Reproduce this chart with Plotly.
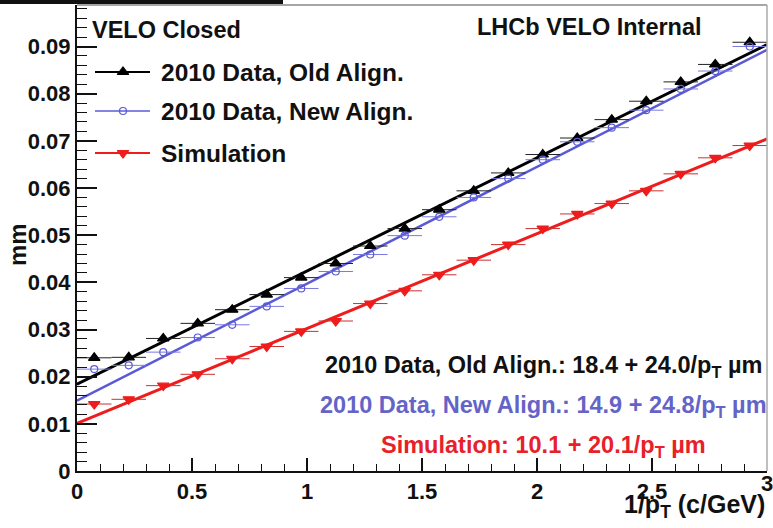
import plotly.graph_objects as go

# ---------------- data ----------------
x_bins = [0.075, 0.225, 0.375, 0.525, 0.675, 0.825, 0.975, 1.125, 1.275, 1.425,
          1.575, 1.725, 1.875, 2.025, 2.175, 2.325, 2.475, 2.625, 2.775, 2.925]
bin_half_width = 0.075

old_align = [0.0240, 0.0241, 0.0281, 0.0313, 0.0342, 0.0374, 0.0410, 0.0440, 0.0477, 0.0514,
             0.0554, 0.0594, 0.0632, 0.0671, 0.0706, 0.0745, 0.0784, 0.0825, 0.0862, 0.0909]
new_align = [0.0216, 0.0224, 0.0252, 0.0283, 0.0310, 0.0349, 0.0387, 0.0423, 0.0459, 0.0499,
             0.0539, 0.0580, 0.0620, 0.0660, 0.0698, 0.0728, 0.0765, 0.0810, 0.0848, 0.0900]
simulation = [0.0142, 0.0152, 0.0181, 0.0205, 0.0238, 0.0264, 0.0296, 0.0318, 0.0355, 0.0382,
              0.0416, 0.0447, 0.0480, 0.0514, 0.0545, 0.0567, 0.0594, 0.0630, 0.0664, 0.0690]

series_names = ["2010 Data, Old Align.", "2010 Data, New Align.", "Simulation"]
fit_intercept_um = [18.4, 14.9, 10.1]
fit_slope_um = [24.0, 24.8, 20.1]
fit_x_range = [0.0, 3.0]

x_ticks = [0, 0.5, 1, 1.5, 2, 2.5]
x_last_tick_label = "3"

# ---------------- style ----------------
FONT = "Liberation Sans, Arial, Helvetica, sans-serif"
colors = ["#000000", "#5a5ad6", "#ee1c1c"]
text_colors = ["#111111", "#6464c8", "#e8202a"]
err_colors = ["#222222", "#7a7ae0", "#cc3030"]
symbols = ["triangle-up", "circle-open", "triangle-down"]
msizes = [10, 7, 10]
lwidths = [3, 2.5, 3]

W, H = 773, 528
L, R, T, B = 77, 6, 5, 57
PW, PH = W - L - R, H - T - B


def fx(px):
    return (px - L) / PW


def fy(py):
    return (H - B - py) / PH


fig = go.Figure()

all_series = [old_align, new_align, simulation]

# fit lines
for i in range(3):
    yl = [(fit_intercept_um[i] + fit_slope_um[i] * xv) / 1000.0 for xv in fit_x_range]
    fig.add_trace(go.Scatter(x=fit_x_range, y=yl, mode="lines",
                             line=dict(color=colors[i], width=lwidths[i]),
                             hoverinfo="skip", showlegend=False))

# data points
for i in range(3):
    fig.add_trace(go.Scatter(
        x=x_bins, y=all_series[i], mode="markers", name=series_names[i],
        marker=dict(symbol=symbols[i], size=msizes[i], color=colors[i],
                    line=dict(color=colors[i], width=1.2)),
        error_x=dict(type="constant", value=bin_half_width, thickness=1,
                     width=0, color=err_colors[i]),
        showlegend=False))

# manual legend (overlay axes spanning the plot area)
leg_y_px = [72, 111, 153]
for i in range(3):
    yy = fy(leg_y_px[i])
    fig.add_trace(go.Scatter(x=[fx(95), fx(150)], y=[yy, yy], mode="lines",
                             line=dict(color=colors[i], width=1.5 if i == 1 else 2),
                             xaxis="x2", yaxis="y2", showlegend=False, hoverinfo="skip"))
    fig.add_trace(go.Scatter(x=[fx(123)], y=[yy], mode="markers",
                             marker=dict(symbol=symbols[i], size=msizes[i], color=colors[i],
                                         line=dict(color=colors[i], width=1.2)),
                             xaxis="x2", yaxis="y2", showlegend=False, hoverinfo="skip"))

annotations = []


def add_text(text, px, py, size=22, color="#111111", xanchor="left", angle=0):
    annotations.append(dict(text=text, x=fx(px), y=fy(py), xref="paper", yref="paper",
                            xanchor=xanchor, yanchor="middle", showarrow=False,
                            textangle=angle,
                            font=dict(family=FONT, size=size, color=color, weight="bold")))


add_text("VELO Closed", 90, 30, size=23.5)
for i in range(3):
    add_text(series_names[i], 159, leg_y_px[i], size=24.5)
add_text("LHCb VELO Internal", 475, 27, size=23.5)

fit_labels = [
    f"2010 Data, Old Align.: {fit_intercept_um[0]:.1f} + {fit_slope_um[0]:.1f}/p<sub>T</sub> µm",
    f"2010 Data, New Align.: {fit_intercept_um[1]:.1f} + {fit_slope_um[1]:.1f}/p<sub>T</sub> µm",
    f"Simulation: {fit_intercept_um[2]:.1f} + {fit_slope_um[2]:.1f}/p<sub>T</sub> µm",
]
fit_y_px = [367, 406, 446]
for i in range(3):
    add_text(fit_labels[i], 543, fit_y_px[i], size=23.5, color=text_colors[i], xanchor="center")

add_text("1/p<sub>T</sub> (c/GeV)", 767, 506, size=25, xanchor="right")
add_text("mm", 17, 245, size=24, xanchor="center", angle=-90)
add_text(x_last_tick_label, 767, 483, size=22, xanchor="center")

shapes = [
    # top & right frame (thin grey)
    dict(type="line", xref="paper", yref="paper", x0=0, x1=1, y0=1, y1=1,
         line=dict(color="#888888", width=1.5)),
    dict(type="line", xref="paper", yref="paper", x0=1, x1=1, y0=0, y1=1,
         line=dict(color="#aaaaaa", width=1.5)),
    # dark bar at top-left edge of picture
    dict(type="rect", xref="paper", yref="paper", x0=fx(0), x1=fx(283), y0=fy(4), y1=fy(0),
         fillcolor="#111111", line=dict(width=0)),
]

fig.update_layout(
    width=W, height=H,
    margin=dict(l=L, r=R, t=T, b=B, autoexpand=False),
    paper_bgcolor="white", plot_bgcolor="white",
    showlegend=False,
    annotations=annotations,
    shapes=shapes,
    font=dict(family=FONT, color="#111111"),
    xaxis=dict(range=[0, 3], tickvals=x_ticks, ticks="inside", ticklen=13, tickwidth=1.5,
               tickcolor="#111111", showline=True, linewidth=2, linecolor="#111111",
               showgrid=False, zeroline=False, automargin=False,
               minor=dict(dtick=0.1, ticks="inside", ticklen=7, tickwidth=1.2,
                          tickcolor="#111111", showgrid=False),
               tickfont=dict(family=FONT, size=22, color="#111111", weight="bold")),
    yaxis=dict(range=[0, 0.0988], dtick=0.01, ticks="inside", ticklen=20, tickwidth=1.5,
               tickcolor="#111111", showline=True, linewidth=2, linecolor="#111111",
               showgrid=False, zeroline=False, automargin=False,
               minor=dict(dtick=0.002, ticks="inside", ticklen=10, tickwidth=1.2,
                          tickcolor="#111111", showgrid=False),
               tickfont=dict(family=FONT, size=22, color="#111111", weight="bold")),
    xaxis2=dict(overlaying="x", range=[0, 1], visible=False),
    yaxis2=dict(overlaying="y", range=[0, 1], visible=False),
)

fig.write_html("out.html", config={"displayModeBar": False},
               post_script="document.body.style.margin='0';document.body.style.overflow='hidden';")
